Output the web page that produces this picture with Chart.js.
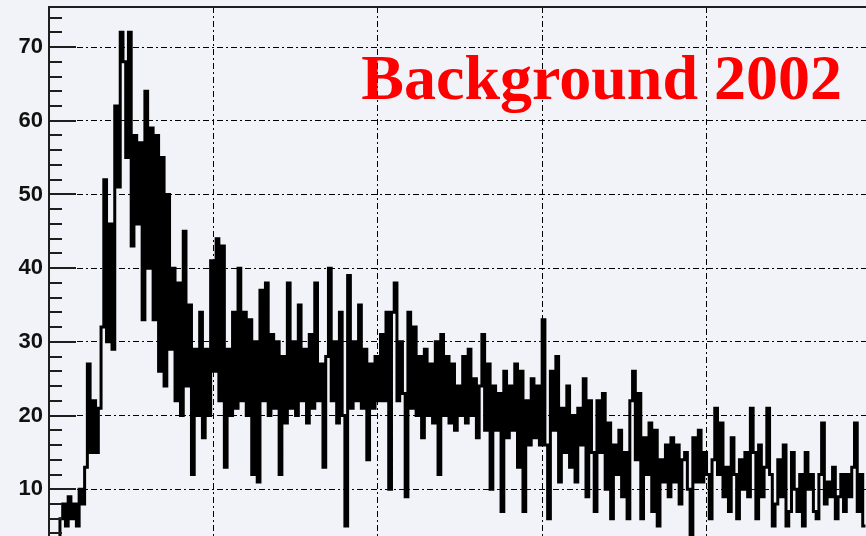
<!DOCTYPE html>
<html>
<head>
<meta charset="utf-8">
<script src="https://cdn.jsdelivr.net/npm/chart.js@4/dist/chart.umd.min.js"></script>
<style>
  html, body { margin: 0; padding: 0; background: #f2f3f8; }
  canvas { display: block; }
</style>
</head>
<body>
<canvas id="hist" width="866" height="536"></canvas>
<script>
// Heading drawn in the upper right of the frame
const headingText = 'Background 2002';

// Labelled y values (major ticks and grid lines)
const yTickLabels = [10, 20, 30, 40, 50, 60, 70];

// Visible window of the y axis
const yMin = 3.66;
const yMax = 75.43;

// Bin counts, one array per vertical grid division (60 bins each)
const countsDiv1 = [
  2, 3, 1, 3, 6, 8, 5, 9, 6, 8,
  5, 10, 8, 13, 27, 15, 22, 15, 21, 32,
  52, 30, 46, 29, 62, 51, 72, 68, 55, 72,
  43, 58, 46, 57, 33, 64, 40, 59, 33, 58,
  26, 55, 24, 50, 29, 40, 22, 38, 20, 45,
  24, 35, 12, 29, 20, 34, 17, 29, 20, 41
];
const countsDiv2 = [
  26, 44, 22, 43, 13, 29, 20, 34, 21, 40,
  22, 34, 20, 33, 12, 30, 11, 37, 22, 38,
  20, 31, 21, 30, 12, 28, 19, 38, 21, 30,
  20, 35, 22, 29, 19, 31, 21, 38, 22, 27,
  13, 28, 40, 22, 30, 19, 34, 20, 5, 39,
  21, 30, 22, 35, 21, 29, 14, 27, 21, 28
];
const countsDiv3 = [
  22, 31, 22, 34, 10, 34, 38, 22, 30, 23,
  9, 34, 21, 32, 20, 28, 17, 29, 20, 27,
  19, 30, 12, 31, 20, 28, 19, 27, 18, 24,
  20, 28, 19, 29, 20, 25, 17, 24, 31, 18,
  27, 10, 24, 18, 23, 7, 26, 17, 24, 18,
  27, 13, 26, 7, 22, 16, 25, 17, 24, 16
];
const countsDiv4 = [
  33, 16, 6, 26, 18, 28, 11, 21, 15, 24,
  13, 20, 11, 21, 16, 25, 9, 22, 15, 7,
  22, 15, 23, 10, 19, 6, 16, 12, 18, 9,
  15, 6, 22, 26, 14, 23, 6, 17, 12, 19,
  7, 18, 5, 14, 11, 16, 9, 17, 11, 16,
  8, 14, 15, 10, 3, 17, 11, 18, 11, 15
];
const countsDiv5 = [
  12, 6, 14, 21, 12, 19, 9, 13, 7, 17,
  12, 6, 14, 10, 15, 9, 21, 15, 6, 16,
  9, 13, 21, 12, 5, 8, 14, 9, 16, 5,
  7, 15, 10, 7, 12, 5, 15, 10, 12, 7,
  6, 12, 19, 8, 11, 9, 13, 6, 9, 12,
  7, 12, 9, 13, 19, 7, 12, 5
];

const binsPerDivision = 60;
const counts = [].concat(countsDiv1, countsDiv2, countsDiv3, countsDiv4, countsDiv5);

// Histogram outline: each bin holds its value from its low edge to the next edge
const steps = counts.map((v, i) => ({ x: i, y: v }));
steps.push({ x: counts.length, y: counts[counts.length - 1] });

const gridDash = [6, 3, 2, 3];

// Frame edges, inner tick marks and the heading
const framePlugin = {
  id: 'frame',
  afterDatasetsDraw(chart) {
    const { ctx, chartArea: a, scales: { y } } = chart;
    ctx.save();
    ctx.strokeStyle = '#1e1e1e';
    ctx.lineWidth = 2;
    ctx.setLineDash([]);
    ctx.beginPath();
    ctx.moveTo(a.left, a.bottom);
    ctx.lineTo(a.left, a.top);
    ctx.lineTo(a.right + 2, a.top);
    ctx.stroke();
    ctx.beginPath();
    for (let v = 2; v <= 76; v += 2) {
      if (v < yMin || v > yMax) continue;
      const py = Math.round(y.getPixelForValue(v));
      const len = v % 10 === 0 ? 27 : 13;
      ctx.moveTo(a.left, py);
      ctx.lineTo(a.left + len, py);
    }
    ctx.stroke();

    ctx.fillStyle = '#ff0000';
    ctx.font = 'bold 64px "Liberation Serif", "Times New Roman", serif';
    ctx.textAlign = 'right';
    ctx.textBaseline = 'alphabetic';
    ctx.fillText(headingText, a.right - 24, 99);
    ctx.restore();
  }
};

new Chart(document.getElementById('hist'), {
  type: 'line',
  data: {
    datasets: [{
      data: steps,
      stepped: 'before',
      borderColor: '#000000',
      borderWidth: 3,
      borderJoinStyle: 'miter',
      pointRadius: 0,
      fill: false,
      tension: 0
    }]
  },
  options: {
    responsive: false,
    animation: false,
    events: [],
    layout: { padding: { top: 7, left: 0, right: 0, bottom: 0 } },
    plugins: { legend: { display: false }, tooltip: { enabled: false }, title: { display: false } },
    scales: {
      x: {
        type: 'linear',
        min: 0,
        max: 298.2,
        afterBuildTicks(scale) {
          const t = [];
          for (let v = binsPerDivision; v < scale.max; v += binsPerDivision) t.push({ value: v });
          scale.ticks = t;
        },
        afterFit(scale) {
          scale.height = 0;
          scale.paddingLeft = 0; scale.paddingRight = 0;
          scale.paddingTop = 0; scale.paddingBottom = 0;
        },
        ticks: { display: false },
        grid: { color: '#000000', lineWidth: 1, drawTicks: false },
        border: { display: false, dash: gridDash }
      },
      y: {
        type: 'linear',
        min: yMin,
        max: yMax,
        afterBuildTicks(scale) {
          scale.ticks = yTickLabels.map(v => ({ value: v }));
        },
        afterFit(scale) {
          scale.width = 49;
          scale.paddingTop = 0; scale.paddingBottom = 0;
          scale.paddingLeft = 0; scale.paddingRight = 0;
        },
        ticks: {
          color: '#111111',
          padding: 6,
          font: { family: '"Liberation Sans", Arial, sans-serif', weight: 'bold', size: 22 },
          callback: v => String(v)
        },
        grid: { color: '#000000', lineWidth: 1, drawTicks: false },
        border: { display: false, dash: gridDash }
      }
    }
  },
  plugins: [framePlugin]
});
</script>
</body>
</html>
